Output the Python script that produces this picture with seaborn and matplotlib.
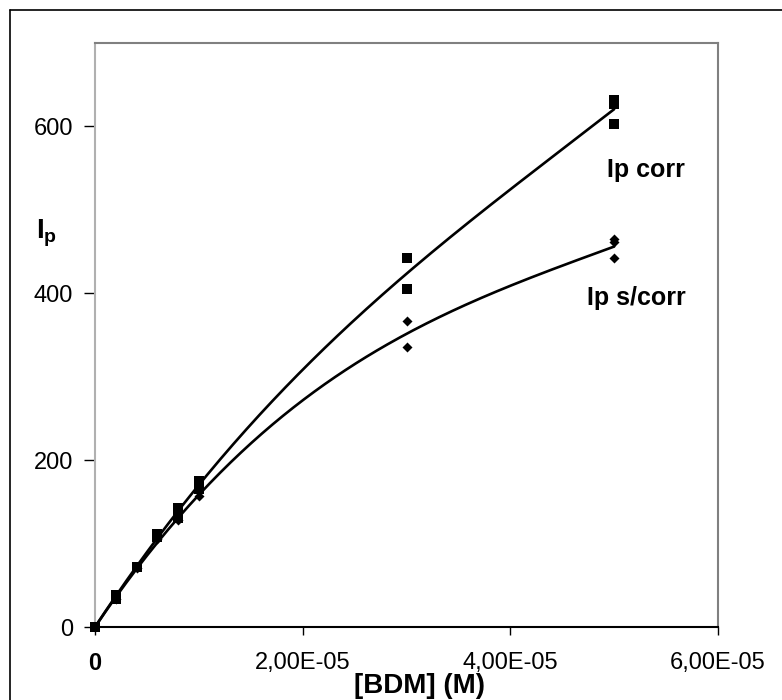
import numpy as np
import pandas as pd
import seaborn as sns
import matplotlib.pyplot as plt
from matplotlib.lines import Line2D

sns.set_style("ticks")
plt.rcParams['font.family'] = ['Liberation Sans', 'DejaVu Sans']
plt.rcParams['mathtext.fontset'] = 'custom'
plt.rcParams['mathtext.bf'] = 'Liberation Sans:bold'
plt.rcParams['mathtext.rm'] = 'Liberation Sans'
plt.rcParams['text.color'] = 'black'
plt.rcParams['xtick.color'] = 'black'
plt.rcParams['ytick.color'] = 'black'

# Ip corr (squares)
conc_corr = [0, 2e-6, 2e-6, 4e-6, 6e-6, 6e-6, 8e-6, 8e-6, 1e-5, 1e-5, 3e-5, 3e-5, 5e-5, 5e-5, 5e-5]
ip_corr = [0, 33, 38, 72, 108, 112, 131, 143, 165, 175, 405, 442, 603, 627, 632]

# Ip s/corr (diamonds)
conc_scorr = [0, 2e-6, 4e-6, 6e-6, 8e-6, 1e-5, 3e-5, 3e-5, 5e-5, 5e-5, 5e-5]
ip_scorr = [0, 33, 71, 106, 128, 157, 336, 367, 442, 461, 465]

x_ticks = [0, 2e-5, 4e-5, 6e-5]
x_ticklabels = ["0", "2,00E-05", "4,00E-05", "6,00E-05"]
y_ticks = [0, 200, 400, 600]

df_corr = pd.DataFrame({"conc": conc_corr, "ip": ip_corr})
df_scorr = pd.DataFrame({"conc": conc_scorr, "ip": ip_scorr})


def trend_through_origin(x, y, xs, order=3):
    # polynomial trendline with intercept set to 0
    x = np.asarray(x, dtype=float) * 1e5
    A = np.column_stack([x ** k for k in range(1, order + 1)])
    coef, *_ = np.linalg.lstsq(A, np.asarray(y, dtype=float), rcond=None)
    u = xs * 1e5
    return sum(c * u ** k for k, c in zip(range(1, order + 1), coef))


xs = np.linspace(0, 5e-5, 200)
fit_corr = trend_through_origin(conc_corr, ip_corr, xs)
fit_scorr = trend_through_origin(conc_scorr, ip_scorr, xs)

fig = plt.figure(figsize=(7.82, 7.0), dpi=100)
ax = fig.add_axes([95 / 782, 1 - 627 / 700, (718 - 95) / 782, (627 - 43) / 700])

sns.lineplot(x=xs, y=fit_corr, ax=ax, color="black", linewidth=1.9)
sns.lineplot(x=xs, y=fit_scorr, ax=ax, color="black", linewidth=1.9)
sns.scatterplot(data=df_corr, x="conc", y="ip", ax=ax, marker="s", s=55,
                color="black", edgecolor="black", linewidth=0, zorder=3, clip_on=False)
sns.scatterplot(data=df_scorr, x="conc", y="ip", ax=ax, marker="D", s=26,
                color="black", edgecolor="black", linewidth=0, zorder=3, clip_on=False)

ax.set_xlim(0, 6e-5)
ax.set_ylim(0, 700)
ax.set_xticks(x_ticks)
ax.set_xticklabels(x_ticklabels, fontsize=17)
ax.get_xticklabels()[0].set_fontweight("bold")
ax.set_yticks(y_ticks)
ax.set_yticklabels([str(v) for v in y_ticks], fontsize=17)
ax.tick_params(axis="x", direction="out", length=6, width=1, color="black", pad=12)
ax.tick_params(axis="y", direction="out", length=8, width=1, color="black", pad=8)
ax.set_xlabel("")
ax.set_ylabel("")

for side in ["left", "top", "right"]:
    ax.spines[side].set_visible(True)
    ax.spines[side].set_linewidth(1.5)
ax.spines["left"].set_color("#b0b0b0")
ax.spines["top"].set_color("#808080")
ax.spines["right"].set_color("#808080")
ax.spines["bottom"].set_color("black")
ax.spines["bottom"].set_linewidth(1.5)

ax.text(685 / 782, 1 - 170 / 700, "Ip corr", transform=fig.transFigure,
        fontsize=18, fontweight="bold", ha="right", va="center")
ax.text(686 / 782, 1 - 298 / 700, "Ip s/corr", transform=fig.transFigure,
        fontsize=18, fontweight="bold", ha="right", va="center")

fig.text(420 / 782, 1 - 686 / 700, "[BDM] (M)", fontsize=20, fontweight="bold",
         ha="center", va="center")
fig.text(47 / 782, 1 - 233 / 700, r"$\mathbf{I_p}$", fontsize=20,
         ha="center", va="center")

# outer chart frame
fig.add_artist(Line2D([10 / 782, 10 / 782], [0, 1 - 10 / 700], color="black",
                      linewidth=1.2, transform=fig.transFigure))
fig.add_artist(Line2D([10 / 782, 1], [1 - 10 / 700, 1 - 10 / 700], color="black",
                      linewidth=1.2, transform=fig.transFigure))

fig.savefig("out.png", dpi=100, facecolor="white")
